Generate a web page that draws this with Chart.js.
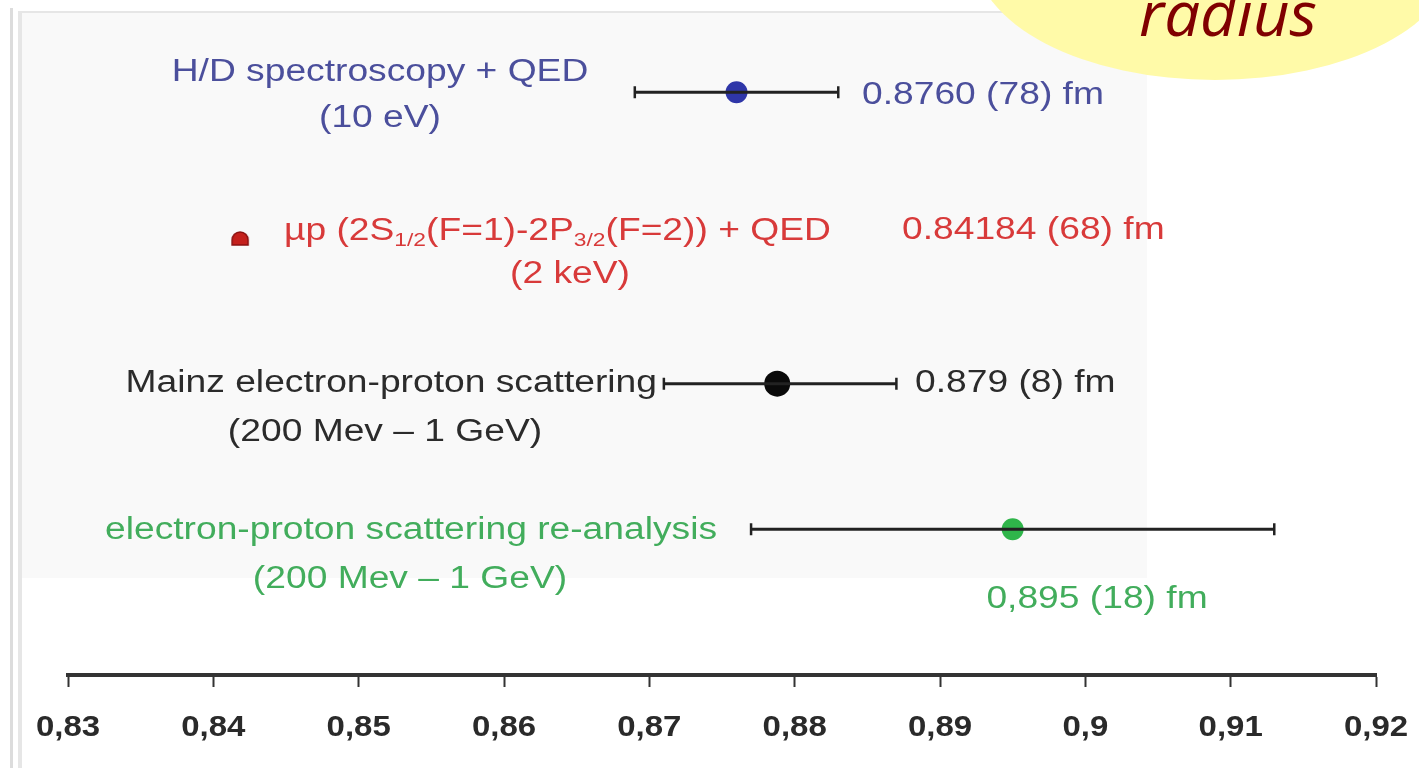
<!DOCTYPE html>
<html>
<head>
<meta charset="utf-8">
<script src="https://cdn.jsdelivr.net/npm/chart.js@4"></script>
<style>
  html, body { margin: 0; padding: 0; background: #fff; }
  canvas { display: block; }
</style>
</head>
<body>
<canvas id="chart" width="1419" height="768"></canvas>
<script>
// measurements, top to bottom
const rows = [4, 3, 2, 1];
const values = [0.8760, 0.84184, 0.8788, 0.895];
// error bar ends as drawn in the figure (none visible for the muonic one)
const errLow = [0.8690, null, 0.8710, 0.8770];
const errHigh = [0.8830, null, 0.8870, 0.9130];
const valueLabels = ['0.8760 (78) fm', '0.84184 (68) fm', '0.879 (8) fm', '0,895 (18) fm'];
const categoryLines = [
  ['H/D spectroscopy + QED', '(10 eV)'],
  ['µp (2S_1/2_(F=1)-2P_3/2_(F=2)) + QED', '(2 keV)'],
  ['Mainz electron-proton scattering', '(200 Mev \u2013 1 GeV)'],
  ['electron-proton scattering re-analysis', '(200 Mev \u2013 1 GeV)']
];
const tickLabels = ['0,83', '0,84', '0,85', '0,86', '0,87', '0,88', '0,89', '0,9', '0,91', '0,92'];

const dotColors = ['#2f36a8', '#c4201c', '#0a0a0a', '#2fb54a'];
const textColors = ['#4b4f9c', '#d83a3a', '#2b2b2b', '#42ad5c'];
const dotSizes = [11, 9, 13, 11];

// the source figure is stretched sideways, so text is widened the same way
const SX = 1.2;
const FONT = '"Liberation Sans", Arial, sans-serif';

// where the text blocks sit: x in px, dy relative to the row's pixel
const textLayout = [
  { lines: [{ x: 380, dy: -20, align: 'center' }, { x: 380, dy: 26, align: 'center' }], value: { x: 862, dy: 3, align: 'left' } },
  { lines: [{ x: 284, dy: -7, align: 'left' }, { x: 570, dy: 36, align: 'center' }], value: { x: 902, dy: -8, align: 'left' } },
  { lines: [{ x: 657, dy: 0, align: 'right' }, { x: 385, dy: 49, align: 'center' }], value: { x: 915, dy: 0, align: 'left' } },
  { lines: [{ x: 411, dy: 1, align: 'center' }, { x: 410, dy: 50, align: 'center' }], value: { x: 1097, dy: 70, align: 'center' } }
];

// little dome marker for the muonic hydrogen point
function domeMarker(color) {
  const c = document.createElement('canvas');
  c.width = 20; c.height = 16;
  const g = c.getContext('2d');
  g.fillStyle = color;
  g.strokeStyle = '#8a1010';
  g.lineWidth = 1.5;
  g.beginPath();
  g.moveTo(2, 15);
  g.lineTo(2, 10);
  g.arc(10, 10, 8, Math.PI, 0);
  g.lineTo(18, 15);
  g.closePath();
  g.fill();
  g.stroke();
  return c;
}

// draw text with a sideways stretch; segments wrapped in _..._ become subscripts
function drawStretched(ctx, str, x, y, align, size, weight, sx) {
  sx = sx || SX;
  const parts = str.split('_').map((t, i) => ({ t, sub: i % 2 === 1 }));
  const fontFor = p => (weight || '') + ' ' + (p.sub ? Math.round(size * 0.62) : size) + 'px ' + FONT;
  let w = 0;
  parts.forEach(p => { ctx.font = fontFor(p); w += ctx.measureText(p.t).width; });
  w *= sx;
  let x0 = align === 'center' ? x - w / 2 : align === 'right' ? x - w : x;
  ctx.save();
  ctx.textAlign = 'left';
  ctx.textBaseline = 'middle';
  ctx.translate(x0, y);
  ctx.scale(sx, 1);
  let cx = 0;
  parts.forEach(p => {
    ctx.font = fontFor(p);
    ctx.fillText(p.t, cx, p.sub ? size * 0.3 : 0);
    cx += ctx.measureText(p.t).width;
  });
  ctx.restore();
}

const backdrop = {
  id: 'backdrop',
  beforeDraw(chart) {
    const ctx = chart.ctx;
    ctx.save();
    ctx.fillStyle = '#fff';
    ctx.fillRect(0, 0, chart.width, chart.height);
    ctx.fillStyle = '#f9f9f9';
    ctx.fillRect(22, 13, 1125, 565);
    // slide frame on the left
    ctx.fillStyle = '#dcdcdc';
    ctx.fillRect(10, 8, 3, 760);
    ctx.fillStyle = '#e6e6e6';
    ctx.fillRect(18, 12, 4, 756);
    ctx.fillRect(18, 11, 1000, 2);
    // yellow bubble in the corner
    ctx.fillStyle = '#fffaa8';
    ctx.beginPath();
    ctx.ellipse(1215, -45, 240, 125, 0, 0, Math.PI * 2);
    ctx.fill();
    ctx.fillStyle = '#800000';
    ctx.font = 'italic 62px "Open Sans", sans-serif';
    ctx.textBaseline = 'alphabetic';
    const w = ctx.measureText('radius').width;
    const k = 178 / w;
    ctx.translate(1228 - 89, 36);
    ctx.scale(k, 1);
    ctx.fillText('radius', 0, 0);
    ctx.restore();
  }
};

const annotations = {
  id: 'annotations',
  afterDraw(chart) {
    const ctx = chart.ctx;
    const xs = chart.scales.x, ys = chart.scales.y;
    ctx.save();
    rows.forEach((r, i) => {
      const py = ys.getPixelForValue(r);
      const lay = textLayout[i];
      ctx.fillStyle = textColors[i];
      categoryLines[i].forEach((line, j) => {
        const l = lay.lines[j];
        drawStretched(ctx, line, l.x, py + l.dy, l.align, 31);
      });
      drawStretched(ctx, valueLabels[i], lay.value.x, py + lay.value.dy, lay.value.align, 31);
    });
    // axis numbers
    ctx.fillStyle = '#2a2a2a';
    xs.ticks.forEach((t, i) => {
      const px = xs.getPixelForTick(i);
      drawStretched(ctx, t.label, px, xs.top + 53, 'center', 30, 'bold', 1.1);
    });
    ctx.restore();
  }
};

const datasets = [];
rows.forEach((r, i) => {
  if (errLow[i] === null) return;
  datasets.push({
    type: 'line',
    data: [{ x: errLow[i], y: r }, { x: errHigh[i], y: r }],
    borderColor: '#222',
    borderWidth: 3,
    pointStyle: 'line',
    rotation: 90,
    pointRadius: 6,
    pointBorderWidth: 2.5,
    pointBorderColor: '#222',
    pointHoverRadius: 6
  });
});
datasets.push({
  type: 'scatter',
  data: rows.map((r, i) => ({ x: values[i], y: r })),
  pointBackgroundColor: dotColors,
  pointBorderColor: dotColors,
  pointBorderWidth: 0,
  pointRadius: dotSizes,
  pointStyle: rows.map((r, i) => i === 1 ? domeMarker(dotColors[i]) : 'circle')
});

new Chart(document.getElementById('chart'), {
  type: 'scatter',
  data: { datasets },
  options: {
    responsive: false,
    animation: false,
    layout: { padding: { left: 68, right: 43, top: 19.5, bottom: 15 } },
    plugins: { legend: { display: false }, tooltip: { enabled: false } },
    scales: {
      x: {
        type: 'linear',
        min: 0.83,
        max: 0.92,
        border: { display: true, color: '#333', width: 4 },
        grid: { drawOnChartArea: false, drawTicks: true, tickLength: 12, tickWidth: 2, tickColor: '#333' },
        ticks: {
          stepSize: 0.01,
          autoSkip: false,
          maxRotation: 0,
          padding: 18,
          color: 'rgba(0,0,0,0)',
          font: { size: 25, weight: 'bold' },
          callback: (v, i) => tickLabels[i]
        }
      },
      y: { display: false, min: 0, max: 4.5 }
    }
  },
  plugins: [backdrop, annotations]
});
</script>
</body>
</html>
